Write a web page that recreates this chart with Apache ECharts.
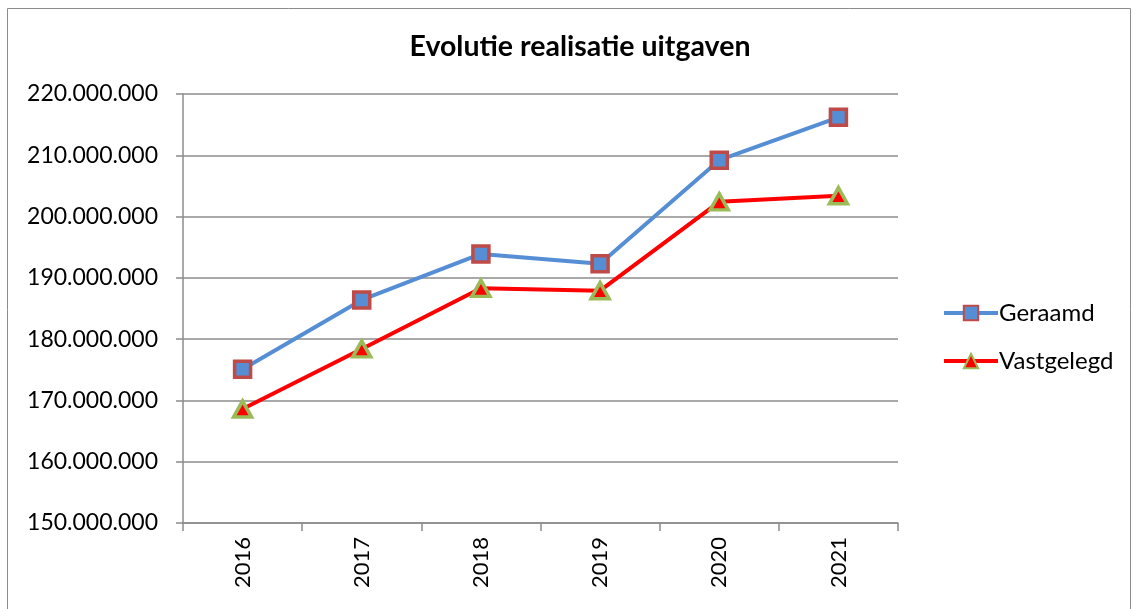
<!DOCTYPE html>
<html>
<head>
    <meta charset="utf-8">
    <title>Evolutie realisatie uitgaven</title>
    <script src="https://cdn.jsdelivr.net/npm/echarts@6/dist/echarts.min.js"></script>
    <style>
        html, body {margin: 0; padding: 0; background: #fff;}
        #main {width: 1133px; height: 609px;}
    </style>
</head>
<body>
<div id="main"></div>
<script>
    // data
    var years = ['2016', '2017', '2018', '2019', '2020', '2021'];
    var geraamd = [175100000, 186400000, 193900000, 192300000, 209200000, 216200000];
    var vastgelegd = [168600000, 178400000, 188300000, 187900000, 202400000, 203400000];

    var font = 'Lato, "Open Sans", sans-serif';

    // 220000000 -> 220.000.000
    function fmt(v) {
        return String(Math.round(v)).replace(/\B(?=(\d{3})+(?!\d))/g, '.');
    }

    var myChart = echarts.init(document.getElementById('main'));

    var chartOption = {
        animation: false,
        title: {
            text: 'Evolutie realisatie uitgaven',
            left: 575,
            textAlign: 'center',
            top: 27,
            textStyle: {fontFamily: font, fontSize: 28.5, fontWeight: 'bold', color: '#000'}
        },
        graphic: [{
            type: 'rect',
            shape: {x: 7.5, y: 8.5, width: 1123, height: 620},
            style: {fill: 'none', stroke: '#8c8c8c', lineWidth: 1},
            silent: true
        }],
        legend: {
            orient: 'vertical',
            left: 937,
            top: 296,
            itemGap: 24,
            itemWidth: 54,
            itemHeight: 18,
            lineStyle: {width: 4},
            textStyle: {fontFamily: font, fontSize: 24, color: '#000', padding: [0, 0, 0, -4]},
            data: ['Geraamd', 'Vastgelegd']
        },
        grid: {left: 183, right: 235, top: 94, bottom: 86},
        xAxis: {
            type: 'category',
            data: years,
            boundaryGap: true,
            axisLine: {lineStyle: {color: '#8c8c8c', width: 1.5}},
            axisTick: {show: true, alignWithLabel: false, length: 8, lineStyle: {color: '#8c8c8c', width: 1.5}},
            axisLabel: {rotate: 90, fontFamily: font, fontSize: 22, color: '#000', margin: 14}
        },
        yAxis: {
            type: 'value',
            min: 150000000,
            max: 220000000,
            interval: 10000000,
            axisLine: {show: true, lineStyle: {color: '#8c8c8c', width: 1.5}},
            axisTick: {show: true, length: 7, lineStyle: {color: '#8c8c8c', width: 1.5}},
            axisLabel: {fontFamily: font, fontSize: 23, color: '#000', margin: 25, formatter: fmt},
            splitLine: {lineStyle: {color: '#8c8c8c', width: 1.5}}
        },
        series: [{
            name: 'Geraamd',
            type: 'line',
            data: geraamd,
            symbol: 'rect',
            symbolSize: 16,
            lineStyle: {color: '#558ed5', width: 4},
            itemStyle: {color: '#558ed5', borderColor: '#be4b48', borderWidth: 3.5}
        }, {
            name: 'Vastgelegd',
            type: 'line',
            data: vastgelegd,
            symbol: 'triangle',
            symbolSize: [18, 16],
            lineStyle: {color: '#ff0000', width: 4},
            itemStyle: {color: '#ff0000', borderColor: '#9bbb59', borderWidth: 3.5}
        }]
    };
    myChart.setOption(chartOption);
</script>
</body>
</html>
